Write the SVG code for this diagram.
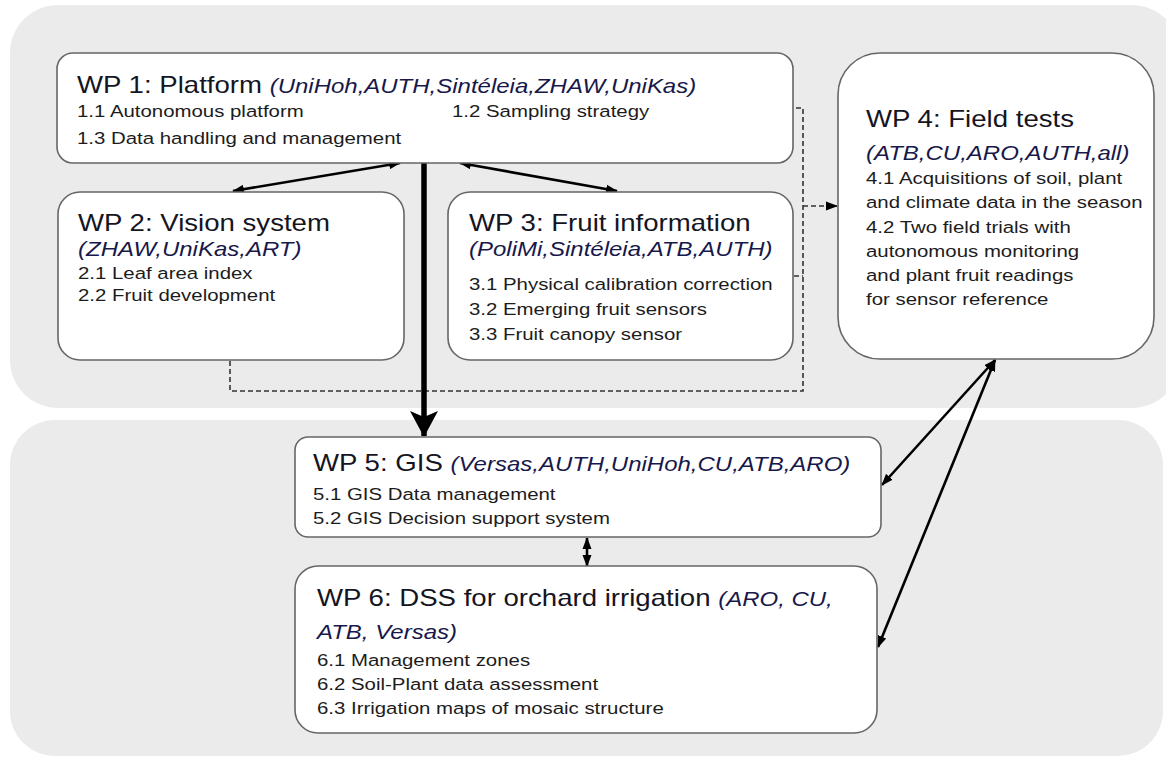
<svg xmlns="http://www.w3.org/2000/svg" width="1166" height="758" viewBox="0 0 1166 758">
<style>
text{font-family:"Liberation Sans",Arial,Helvetica,sans-serif;fill:#15151f}
.h{font-size:23px}
.i{font-size:20px;font-style:italic;fill:#18184a}
.s{font-size:17px;fill:#1c1c1c}
.panel{fill:#ebebeb}
.node{fill:#ffffff;stroke:#666666;stroke-width:1.6}
.conn{stroke:#000;stroke-width:2.6;fill:none}
.dash{stroke:#333;stroke-width:1.6;fill:none;stroke-dasharray:5 3}
</style>
<defs>
<marker id="ah" viewBox="0 0 12 10" refX="11" refY="5" markerWidth="12" markerHeight="10" markerUnits="userSpaceOnUse" orient="auto-start-reverse"><path d="M0,0.5 L12,5 L0,9.5 z" fill="#000"/></marker>
<marker id="big" viewBox="0 0 26 28" refX="25" refY="14" markerWidth="26" markerHeight="28" markerUnits="userSpaceOnUse" orient="auto"><path d="M0,0 L26,14 L0,28 L6,14 z" fill="#000"/></marker>
</defs>
<rect width="1166" height="758" fill="#ffffff"/>
<g id="panels">
<rect class="panel" x="10" y="5" width="1170" height="403" rx="48"/>
<rect class="panel" x="10" y="420" width="1153" height="336" rx="45"/>
</g>
<g id="connectors">
<polyline class="dash" points="230,361 230,391 803,391 803,108 794,108"/>
<line class="dash" x1="794" y1="276" x2="803" y2="276"/>
<line class="dash" x1="803" y1="206" x2="837" y2="206" marker-end="url(#ah)"/>
<line class="conn" x1="400" y1="163" x2="233" y2="191" marker-start="url(#ah)" marker-end="url(#ah)"/>
<line class="conn" x1="460" y1="163" x2="617" y2="191" marker-start="url(#ah)" marker-end="url(#ah)"/>
<line x1="424" y1="163" x2="424" y2="436" stroke="#000" stroke-width="5.5" marker-end="url(#big)"/>
<line class="conn" x1="587" y1="538" x2="587" y2="566" marker-start="url(#ah)" marker-end="url(#ah)"/>
<line class="conn" x1="995" y1="360" x2="882" y2="485" marker-start="url(#ah)" marker-end="url(#ah)"/>
<line class="conn" x1="995" y1="360" x2="878" y2="647" marker-start="url(#ah)" marker-end="url(#ah)"/>
</g>
<g id="wp1">
<rect class="node" x="57" y="53" width="736" height="110" rx="16"/>
<text class="h" transform="translate(77 93) scale(1.2 1)">WP 1: Platform <tspan class="i">(UniHoh,AUTH,Sintéleia,ZHAW,UniKas)</tspan></text>
<text class="s" transform="translate(77 117) scale(1.2 1)">1.1 Autonomous platform</text>
<text class="s" transform="translate(452 117) scale(1.2 1)">1.2 Sampling strategy</text>
<text class="s" transform="translate(77 144) scale(1.2 1)">1.3 Data handling and management</text>
</g>
<g id="wp2">
<rect class="node" x="58" y="192" width="346" height="168" rx="22"/>
<text class="h" transform="translate(78 231) scale(1.2 1)">WP 2: Vision system</text>
<text class="i" transform="translate(78 256) scale(1.2 1)">(ZHAW,UniKas,ART)</text>
<text class="s" transform="translate(78 279) scale(1.2 1)">2.1 Leaf area index</text>
<text class="s" transform="translate(78 301) scale(1.2 1)">2.2 Fruit development</text>
</g>
<g id="wp3">
<rect class="node" x="448" y="192" width="345" height="168" rx="22"/>
<text class="h" transform="translate(469 231) scale(1.2 1)">WP 3: Fruit information</text>
<text class="i" transform="translate(469 256) scale(1.2 1)">(PoliMi,Sintéleia,ATB,AUTH)</text>
<text class="s" transform="translate(469 290) scale(1.2 1)">3.1 Physical calibration correction</text>
<text class="s" transform="translate(469 315) scale(1.2 1)">3.2 Emerging fruit sensors</text>
<text class="s" transform="translate(469 340) scale(1.2 1)">3.3 Fruit canopy sensor</text>
</g>
<g id="wp4">
<rect class="node" x="838" y="53" width="316" height="306" rx="42"/>
<text class="h" transform="translate(866 127) scale(1.2 1)">WP 4: Field tests</text>
<text class="i" transform="translate(866 160) scale(1.2 1)">(ATB,CU,ARO,AUTH,all)</text>
<text class="s" transform="translate(866 184) scale(1.2 1)">4.1 Acquisitions of soil, plant</text>
<text class="s" transform="translate(866 208) scale(1.2 1)">and climate data in the season</text>
<text class="s" transform="translate(866 233) scale(1.2 1)">4.2 Two field trials with</text>
<text class="s" transform="translate(866 257) scale(1.2 1)">autonomous monitoring</text>
<text class="s" transform="translate(866 281) scale(1.2 1)">and plant fruit readings</text>
<text class="s" transform="translate(866 305) scale(1.2 1)">for sensor reference</text>
</g>
<g id="wp5">
<rect class="node" x="295" y="437" width="586" height="100" rx="13"/>
<text class="h" transform="translate(313 471) scale(1.2 1)">WP 5: GIS <tspan class="i">(Versas,AUTH,UniHoh,CU,ATB,ARO)</tspan></text>
<text class="s" transform="translate(313 500) scale(1.2 1)">5.1 GIS Data management</text>
<text class="s" transform="translate(313 524) scale(1.2 1)">5.2 GIS Decision support system</text>
</g>
<g id="wp6">
<rect class="node" x="295" y="566" width="582" height="167" rx="23"/>
<text class="h" transform="translate(317 606) scale(1.2 1)">WP 6: DSS for orchard irrigation <tspan class="i">(ARO, CU,</tspan></text>
<text class="i" transform="translate(317 639) scale(1.2 1)">ATB, Versas)</text>
<text class="s" transform="translate(317 666) scale(1.2 1)">6.1 Management zones</text>
<text class="s" transform="translate(317 690) scale(1.2 1)">6.2 Soil-Plant data assessment</text>
<text class="s" transform="translate(317 714) scale(1.2 1)">6.3 Irrigation maps of mosaic structure</text>
</g>
</svg>
